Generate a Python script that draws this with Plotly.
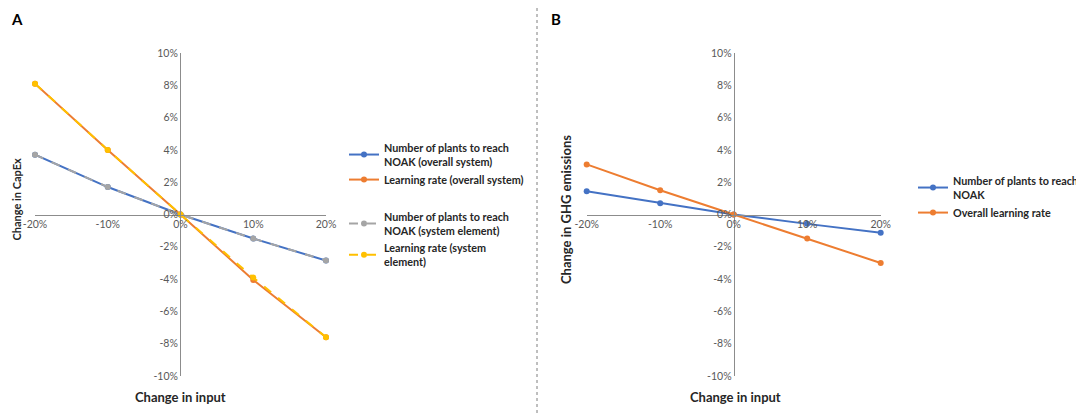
import plotly.graph_objects as go

# ---------------- data ----------------
inputs = [-0.20, -0.10, 0.0, 0.10, 0.20]

capex_plants_overall = [0.037, 0.017, 0.0, -0.0149, -0.0285]
capex_lr_overall = [0.081, 0.040, 0.0, -0.0405, -0.076]
capex_plants_element = [0.037, 0.017, 0.0, -0.0149, -0.0285]
capex_lr_element = [0.081, 0.040, 0.0, -0.039, -0.076]

ghg_plants = [0.0144, 0.007, 0.0, -0.0058, -0.0113]
ghg_lr = [0.031, 0.015, 0.0, -0.0149, -0.030]

x_tickvals = [-0.2, -0.1, 0.0, 0.1, 0.2]
x_ticktext = ["-20%", "-10%", "0%", "10%", "20%"]
y_tickvals = [-0.10, -0.08, -0.06, -0.04, -0.02, 0.0, 0.02, 0.04, 0.06, 0.08, 0.10]
y_ticktext = ["-10%", "-8%", "-6%", "-4%", "-2%", "0%", "2%", "4%", "6%", "8%", "10%"]

names_a = [
    "Number of plants to reach<br>NOAK (overall system)",
    "Learning rate (overall system)",
    "Number of plants to reach<br>NOAK (system element)",
    "Learning rate (system<br>element)",
]
names_b = ["Number of plants to reach<br>NOAK", "Overall learning rate"]

BLUE = "#4472C4"
ORANGE = "#ED7D31"
GRAY = "#A5A5A5"
YELLOW = "#FFC000"
FONT = "Lato"

W, H = 1084, 414
OFF = 8  # page body margin

fig = go.Figure()

def add(x, y, name, color, dash, xa, ya, legend, group):
    fig.add_trace(go.Scatter(
        x=x, y=y, name=name, mode="lines+markers",
        line=dict(color=color, width=2, dash=dash),
        marker=dict(color=color, size=6),
        xaxis=xa, yaxis=ya, legend=legend, legendgroup=group,
        cliponaxis=False,
    ))

add(inputs, capex_plants_overall, names_a[0], BLUE, "solid", "x", "y", "legend", "g1")
add(inputs, capex_lr_overall, names_a[1], ORANGE, "solid", "x", "y", "legend", "g1")
add(inputs, capex_plants_element, names_a[2], GRAY, "dash", "x", "y", "legend", "g2")
add(inputs, capex_lr_element, names_a[3], YELLOW, "dash", "x", "y", "legend", "g2")

add(inputs, ghg_plants, names_b[0], BLUE, "solid", "x2", "y2", "legend2", "h1")
add(inputs, ghg_lr, names_b[1], ORANGE, "solid", "x2", "y2", "legend2", "h1")

def px_x(p):
    return (p - OFF) / W

def px_y(p):
    return 1 - (p - OFF) / H

y_dom = [px_y(376), px_y(53)]
xa_dom = [px_x(35), px_x(326)]
xb_dom = [px_x(586.7), px_x(880.7)]
ymid = (y_dom[0] + y_dom[1]) / 2

axis_common = dict(showgrid=False, zeroline=False, showline=True,
                   linecolor="#8C8C8C", linewidth=1, ticks="",
                   tickfont=dict(family=FONT, size=10.5, color="#595959"))

leg_font = dict(family=FONT, size=10.8, color="#262626", weight="bold")

fig.update_layout(
    width=W, height=H,
    margin=dict(l=0, r=0, t=0, b=0, autoexpand=False),
    paper_bgcolor="white", plot_bgcolor="white",
    font=dict(family=FONT),
    xaxis=dict(domain=xa_dom, range=[-0.2, 0.2], anchor="free", position=ymid,
               tickvals=x_tickvals, ticktext=x_ticktext, **axis_common),
    yaxis=dict(domain=y_dom, range=[-0.1, 0.1], anchor="free",
               position=px_x(180),
               tickvals=y_tickvals, ticktext=y_ticktext, **axis_common),
    xaxis2=dict(domain=xb_dom, range=[-0.2, 0.2], anchor="free", position=ymid,
                tickvals=x_tickvals, ticktext=x_ticktext, **axis_common),
    yaxis2=dict(domain=y_dom, range=[-0.1, 0.1], anchor="free",
                position=(xb_dom[0] + xb_dom[1]) / 2,
                tickvals=y_tickvals, ticktext=y_ticktext, **axis_common),
    legend=dict(x=px_x(344), y=px_y(134), xanchor="left", yanchor="top",
                font=leg_font, bgcolor="rgba(0,0,0,0)", traceorder="grouped",
                tracegroupgap=19, itemwidth=30),
    legend2=dict(x=px_x(913), y=px_y(167), xanchor="left", yanchor="top",
                 font=leg_font, bgcolor="rgba(0,0,0,0)", itemwidth=30),
    showlegend=True,
)

ann_font = dict(family=FONT, size=13, color="#262626", weight="bold")
annotations = [
    dict(text="A", x=px_x(9), y=px_y(8), xanchor="left", yanchor="top", showarrow=False,
         font=dict(family=FONT, size=15, color="black", weight="bold")),
    dict(text="B", x=px_x(549), y=px_y(8), xanchor="left", yanchor="top", showarrow=False,
         font=dict(family=FONT, size=15, color="black", weight="bold")),
    dict(text="Change in CapEx", x=px_x(8), y=px_y(200), textangle=-90, showarrow=False,
         xanchor="left", yanchor="middle", borderpad=0,
         font=dict(family=FONT, size=11, color="#262626", weight="bold")),
    dict(text="Change in input", x=px_x(180), y=px_y(397), showarrow=False,
         xanchor="center", yanchor="middle", font=ann_font),
    dict(text="Change in GHG emissions", x=px_x(566), y=px_y(210), textangle=-90, showarrow=False,
         xanchor="center", yanchor="middle", font=ann_font),
    dict(text="Change in input", x=px_x(735), y=px_y(397), showarrow=False,
         xanchor="center", yanchor="middle", font=ann_font),
]
for a in annotations:
    a.update(xref="paper", yref="paper")
fig.update_layout(annotations=annotations)

fig.add_shape(type="line", xref="paper", yref="paper",
              x0=px_x(537), x1=px_x(537), y0=px_y(8), y1=px_y(414),
              line=dict(color="#7F7F7F", width=1, dash="dot"))

fig.write_html("out.html")
